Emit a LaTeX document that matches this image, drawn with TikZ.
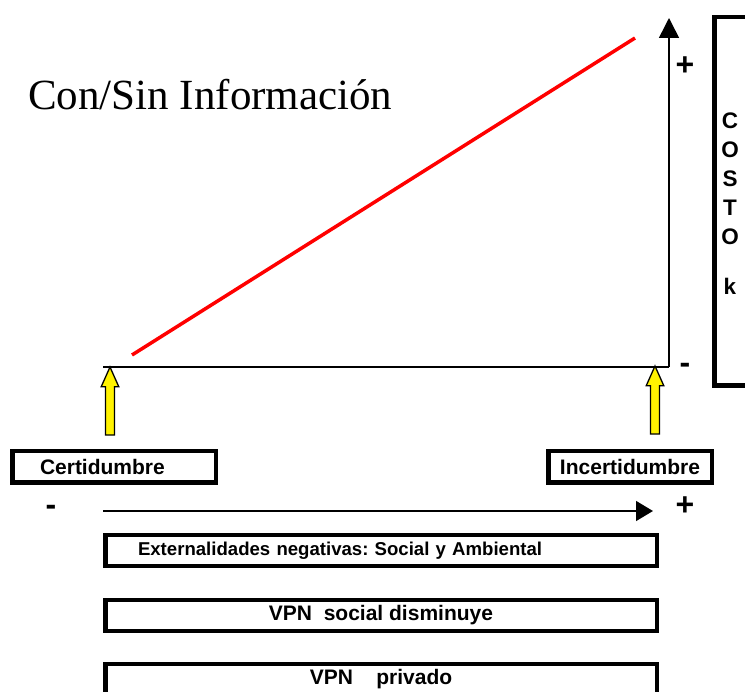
\documentclass[tikz,border=0pt]{standalone}
\usepackage{fontspec}
\setmainfont{Liberation Serif}
\setsansfont{Liberation Sans}
\usetikzlibrary{arrows.meta,shapes.arrows}
\frenchspacing
\tikzstyle{cajon} = [draw=black, line width=4.5pt, rectangle, inner sep=0pt,
    font=\sffamily\bfseries\fontsize{21}{21}\selectfont]
\tikzstyle{eje} = [draw=black, line width=1.5pt]
\tikzstyle{signo} = [font=\sffamily\bfseries\fontsize{32}{32}\selectfont, inner sep=0pt]
\tikzstyle{letra} = [font=\sffamily\bfseries\fontsize{22.5}{22.5}\selectfont, inner sep=0pt]
\tikzstyle{flechita} = [single arrow, draw=black, fill=yellow, line width=1.3pt,
    shape border rotate=90, minimum height=68pt, minimum width=16pt, inner sep=3.8pt,
    single arrow head extend=4.3pt, single arrow tip angle=48]

\begin{document}
\begin{tikzpicture}[x=1pt, y=-1pt]
                \useasboundingbox (0,0) rectangle (745,692);
                \node[font=\fontsize{43}{43}\selectfont, anchor=base west, inner sep=0pt] (titulo) at (28,110) {Con/Sin Información};
                \coordinate (origen) at (103,367);
                \coordinate (esquina) at (669,367);
                \coordinate (tope) at (669,18);
                \draw[eje] (origen) -- (esquina);
                \draw[eje, -{Triangle[width=20pt,length=20pt]}] (esquina) -- (tope);
                \coordinate (rojoA) at (132,355);
                \coordinate (rojoB) at (635,38);
                \draw[red, line width=3.5pt] (rojoA) -- (rojoB);
                \node[signo] (mas) at (685,66) {+};
                \node[signo] (menos) at (685,368) {-};
                \draw[line width=4.5pt] (770,17) -- (714.25,17) -- (714.25,385.5) -- (770,385.5);
                \foreach \l/\y in {C/121,O/150,S/179,T/208,O/237,k/286}
                    \node[letra] (costo\y) at (730,\y) {\l};
                \node[flechita] (fcert) at (110,406) {};
                \node[flechita] (fincert) at (655,405) {};
                \node[cajon, minimum height=31.5pt, text width=148pt, align=left, inner xsep=27.75pt] (cert) at (114,467) {Certidumbre};
                \node[cajon, minimum width=163.5pt, minimum height=31.5pt] (incert) at (630,467) {Incertidumbre};
                \coordinate (ini) at (103,511);
                \coordinate (fin) at (653,511);
                \draw[eje, -{Triangle[width=20pt,length=17pt]}] (ini) -- (fin);
                \node[signo] (menos2) at (51,510) {-};
                \node[signo] (mas2) at (685,506) {+};
                \node[cajon, minimum height=31pt, text width=486pt, align=left, inner xsep=32.75pt,
                    font=\sffamily\bfseries\fontsize{18.6}{20}\selectfont] (ext) at (381,550.5) {Externalidades negativas: Social y Ambiental};
                \node[cajon, minimum width=551.5pt, minimum height=31pt] (social) at (381,615.5) {VPN\ \ social disminuye};
                \node[cajon, minimum width=551.5pt, minimum height=31pt] (privado) at (381,679.5) {VPN\ \ \ \ privado};
            \end{tikzpicture}
\end{document}
